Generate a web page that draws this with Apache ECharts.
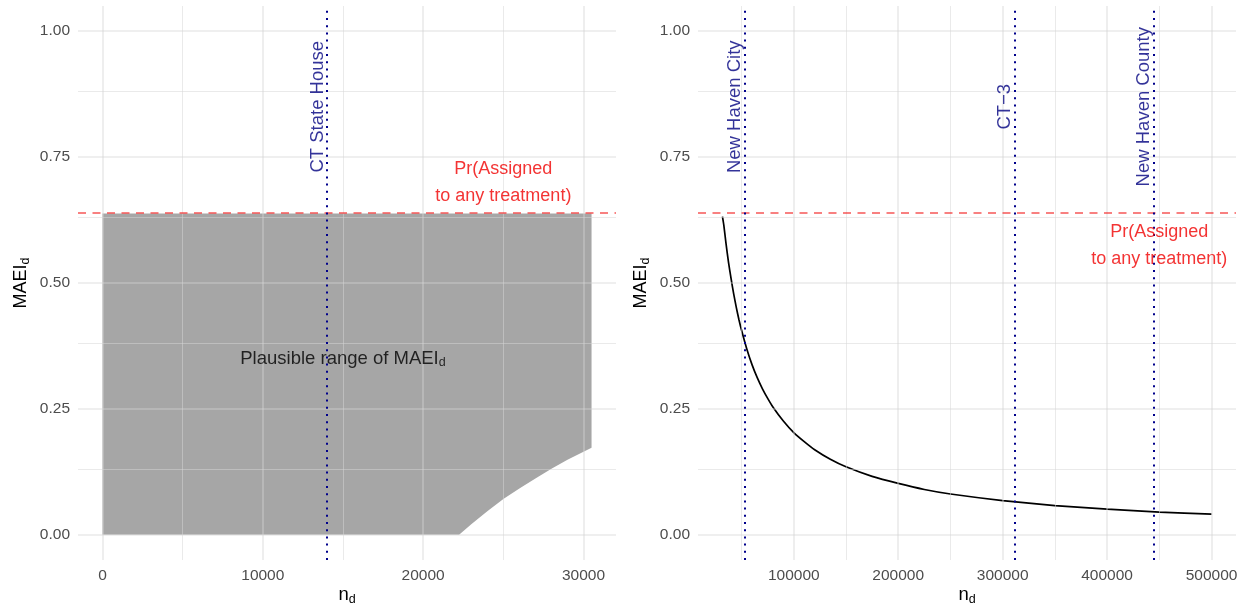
<!DOCTYPE html>
<html>
<head>
<meta charset="utf-8">
<script src="https://cdn.jsdelivr.net/npm/echarts@6/dist/echarts.min.js"></script>
<style>
  html, body { margin: 0; padding: 0; background: #ffffff; }
  #chart { width: 1242px; height: 607px; }
</style>
</head>
<body>
<div id="chart"></div>
<script>
// ---- shared y scale ----
const yTicks = [0, 0.25, 0.5, 0.75, 1];
const yMinor = [0.125, 0.375, 0.625, 0.875];
const prAssigned = 0.638;

// ---- left panel: plausible range of MAEI_d ----
const leftXTicks = [0, 10000, 20000, 30000];
const leftXMinor = [5000, 15000, 25000];
const regionN = [0, 30500];
const lowerBoundN = [22240, 23000, 24000, 25000, 26000, 27000, 28000, 29000, 30000, 30500];
const lowerBoundMAEI = [0, 0.021, 0.047, 0.071, 0.092, 0.112, 0.131, 0.149, 0.165, 0.173];
const leftRefN = [14000];
const leftRefNames = ['CT State House'];

// ---- right panel: MAEI_d curve over n_d ----
const rightXTicks = [100000, 200000, 300000, 400000, 500000];
const rightXMinor = [50000, 150000, 250000, 350000, 450000];
const curveN = [31700, 33000, 35000, 37500, 40000, 42500, 45000, 47500, 50000, 55000,
                60000, 65000, 70000, 75000, 80000, 90000, 100000, 110000, 120000, 135000,
                150000, 175000, 200000, 225000, 250000, 300000, 350000, 400000, 450000, 500000];
const curveMAEI = [0.632, 0.615, 0.58, 0.541, 0.508, 0.478, 0.451, 0.427, 0.406, 0.369,
                   0.338, 0.312, 0.29, 0.271, 0.254, 0.226, 0.203, 0.185, 0.169, 0.15,
                   0.135, 0.116, 0.102, 0.09, 0.081, 0.068, 0.058, 0.051, 0.045, 0.041];
const rightRefN = [52700, 311200, 444200];
const rightRefNames = ['New Haven City', 'CT\u22123', 'New Haven County'];

const FONT = '"Liberation Sans", Arial, sans-serif';
const NAVY = '#00007f';
const subRich = { sub: { fontSize: 12.5, lineHeight: 12, verticalAlign: 'bottom', fontFamily: FONT, color: '#000' } };

function makeXAxis(gridIndex, min, max, ticks) {
  return {
    type: 'value', gridIndex, min, max,
    name: 'n{sub|d}', nameLocation: 'middle', nameGap: 24, nameMoveOverlap: false,
    nameTextStyle: { fontSize: 18.5, color: '#000', fontFamily: FONT, lineHeight: 22, rich: subRich },
    axisLine: { show: false }, axisTick: { show: false }, splitLine: { show: false },
    axisLabel: { customValues: ticks, color: '#4d4d4d', fontSize: 15.5, fontFamily: FONT, margin: 8,
                 formatter: v => String(v) }
  };
}
function makeYAxis(gridIndex) {
  return {
    type: 'value', gridIndex, min: -0.05, max: 1.05,
    name: 'MAEI{sub|d}', nameLocation: 'middle', nameGap: 46, nameRotate: 90, nameMoveOverlap: false,
    nameTextStyle: { fontSize: 18, color: '#000', fontFamily: FONT, lineHeight: 22, rich: subRich },
    axisLine: { show: false }, axisTick: { show: false }, splitLine: { show: false },
    axisLabel: { customValues: yTicks, color: '#4d4d4d', fontSize: 15.5, fontFamily: FONT, margin: 8,
                 formatter: v => v.toFixed(2) }
  };
}

// panel grid lines, drawn over the shaded region
function gridLines(i, xMajor, xMinor) {
  const major = { color: 'rgba(214,214,214,0.5)', width: 1.6, type: 'solid' };
  const minor = { color: 'rgba(214,214,214,0.5)', width: 1, type: 'solid' };
  return {
    type: 'line', xAxisIndex: i, yAxisIndex: i, data: [], z: 2, silent: true,
    markLine: {
      silent: true, symbol: ['none', 'none'], label: { show: false }, animation: false,
      emphasis: { disabled: true },
      data: [
        ...xMinor.map(v => ({ xAxis: v, lineStyle: minor })),
        ...yMinor.map(v => ({ yAxis: v, lineStyle: minor })),
        ...xMajor.map(v => ({ xAxis: v, lineStyle: major })),
        ...yTicks.map(v => ({ yAxis: v, lineStyle: major }))
      ]
    }
  };
}

function refLines(i, refN) {
  return {
    type: 'line', xAxisIndex: i, yAxisIndex: i, data: [], z: 4, silent: true,
    markLine: {
      silent: true, symbol: ['none', 'none'], label: { show: false }, animation: false,
      emphasis: { disabled: true },
      data: [
        { yAxis: prAssigned, lineStyle: { color: 'rgba(245,40,40,0.78)', width: 1.6, type: [8, 6.5] } },
        ...refN.map(v => ({ xAxis: v, lineStyle: { color: '#00008b', width: 2, type: [2, 5.2] } }))
      ]
    }
  };
}

function refLabels(refN, names) {
  return refN.map((n, k) => ({
    value: [n, 0.85],
    label: { formatter: names[k], rotate: 90, color: NAVY, fontSize: 18.5, fontFamily: FONT,
             align: 'center', verticalAlign: 'bottom' }
  }));
}

const prLabel = { formatter: 'Pr(Assigned\nto any treatment)', color: '#f00000', fontSize: 18,
                  lineHeight: 27, fontFamily: FONT, align: 'center', verticalAlign: 'middle' };

// closed outline of the shaded region: upper edge, then lower bound back to the origin
const regionOutline = [[regionN[0], prAssigned], [regionN[1], prAssigned]]
  .concat(lowerBoundN.map((n, k) => [n, lowerBoundMAEI[k]]).reverse())
  .concat([[regionN[0], 0]]);

const option = {
  animation: false,
  backgroundColor: '#ffffff',
  grid: [
    { left: 78, top: 6, width: 538, height: 554, outerBoundsMode: 'none', containLabel: false },
    { left: 698, top: 6, width: 538, height: 554, outerBoundsMode: 'none', containLabel: false }
  ],
  xAxis: [
    makeXAxis(0, -1525, 32025, leftXTicks),
    makeXAxis(1, 8285, 523415, rightXTicks)
  ],
  yAxis: [makeYAxis(0), makeYAxis(1)],
  series: [
    {
      type: 'custom', xAxisIndex: 0, yAxisIndex: 0, z: 1, silent: true,
      data: [[0, 0]],
      renderItem: (params, api) => ({
        type: 'polygon',
        shape: { points: regionOutline.map(p => api.coord(p)) },
        style: { fill: '#a6a6a6' }
      })
    },
    gridLines(0, leftXTicks, leftXMinor),
    gridLines(1, rightXTicks, rightXMinor),
    {
      type: 'line', xAxisIndex: 1, yAxisIndex: 1, z: 3, silent: true,
      data: curveN.map((n, k) => [n, curveMAEI[k]]),
      smooth: 0.2, showSymbol: false,
      lineStyle: { color: '#000', width: 1.7 }
    },
    refLines(0, leftRefN),
    refLines(1, rightRefN),
    {
      type: 'scatter', xAxisIndex: 0, yAxisIndex: 0, z: 5, silent: true, symbolSize: 0,
      label: { show: true, position: 'inside' },
      data: [
        { value: [25000, 0.70], label: prLabel },
        { value: [15000, 0.35], label: { formatter: 'Plausible range of MAEI{sub|d}', color: '#000',
            fontSize: 18.5, lineHeight: 22, fontFamily: FONT, align: 'center', verticalAlign: 'middle', rich: subRich } },
        ...refLabels(leftRefN, leftRefNames)
      ]
    },
    {
      type: 'scatter', xAxisIndex: 1, yAxisIndex: 1, z: 5, silent: true, symbolSize: 0,
      label: { show: true, position: 'inside' },
      data: [
        { value: [450000, 0.575], label: prLabel },
        ...refLabels(rightRefN, rightRefNames)
      ]
    }
  ]
};

const chart = echarts.init(document.getElementById('chart'), null, { renderer: 'canvas' });
chart.setOption(option);
</script>
</body>
</html>
